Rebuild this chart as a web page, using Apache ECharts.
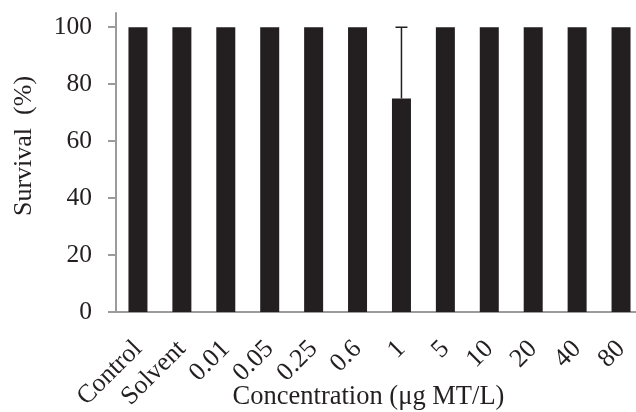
<!DOCTYPE html>
<html>
<head>
<meta charset="utf-8">
<script src="https://cdn.jsdelivr.net/npm/echarts@6/dist/echarts.min.js"></script>
<style>
html,body{margin:0;padding:0;background:#fff;}
#main{width:636px;height:412px;}
</style>
</head>
<body>
<div id="main"></div>
<script>
const categories = ['Control','Solvent','0.01','0.05','0.25','0.6','1','5','10','20','40','80'];
const survival = [100,100,100,100,100,100,75,100,100,100,100,100];
const errorPlus = [0,0,0,0,0,0,25,0,0,0,0,0];
const yTicks = [0,20,40,60,80,100];

const FONT = 'Liberation Serif';
const TXT = '#231f20';
const AXIS = '#9b9b9b';

const chart = echarts.init(document.getElementById('main'), null, {renderer:'canvas'});
chart.setOption({
  animation: false,
  backgroundColor: '#fff',
  grid: {left: 116, top: 13, width: 527, bottom: 100, containLabel: false, outerBoundsMode: 'none'},
  xAxis: {
    type: 'category',
    data: categories,
    axisLine: {lineStyle: {color: AXIS, width: 2}},
    axisTick: {show: false},
    axisLabel: {interval: 0, rotate: 45, margin: 33, hideOverlap: false, color: TXT, fontFamily: FONT, fontSize: 26},
    name: 'Concentration (μg MT/L)',
    nameLocation: 'middle',
    nameMoveOverlap: false,
    nameGap: 72,
    nameTextStyle: {color: TXT, fontFamily: FONT, fontSize: 26.5, padding: [0, 22, 0, 0]}
  },
  yAxis: {
    type: 'value',
    min: 0,
    max: 105,
    axisLine: {show: true, lineStyle: {color: AXIS, width: 2}},
    axisTick: {show: true, length: 8, inside: false, customValues: yTicks, lineStyle: {color: AXIS, width: 2}},
    axisLabel: {customValues: yTicks, margin: 24, color: TXT, fontFamily: FONT, fontSize: 25.5},
    splitLine: {show: false},
    name: 'Survival  (%)',
    nameLocation: 'middle',
    nameMoveOverlap: false,
    nameGap: 79,
    nameTextStyle: {color: TXT, fontFamily: FONT, fontSize: 26, padding: [0, 0, 0, 33]}
  },
  series: [
    {
      type: 'bar',
      data: survival,
      barWidth: 19,
      itemStyle: {color: '#231f20'}
    },
    {
      type: 'custom',
      data: survival.map((v, i) => [i, v, v + errorPlus[i]]),
      renderItem: function (params, api) {
        const i = api.value(0);
        const lo = api.value(1);
        const hi = api.value(2);
        if (hi <= lo) return null;
        const p0 = api.coord([i, lo]);
        const p1 = api.coord([i, hi]);
        const half = 6;
        const style = {stroke: '#231f20', lineWidth: 1.5};
        return {
          type: 'group',
          children: [
            {type: 'line', shape: {x1: p0[0], y1: p0[1], x2: p1[0], y2: p1[1]}, style: style},
            {type: 'line', shape: {x1: p1[0] - half, y1: p1[1], x2: p1[0] + half, y2: p1[1]}, style: style}
          ]
        };
      },
      z: 3
    }
  ]
});
</script>
</body>
</html>
